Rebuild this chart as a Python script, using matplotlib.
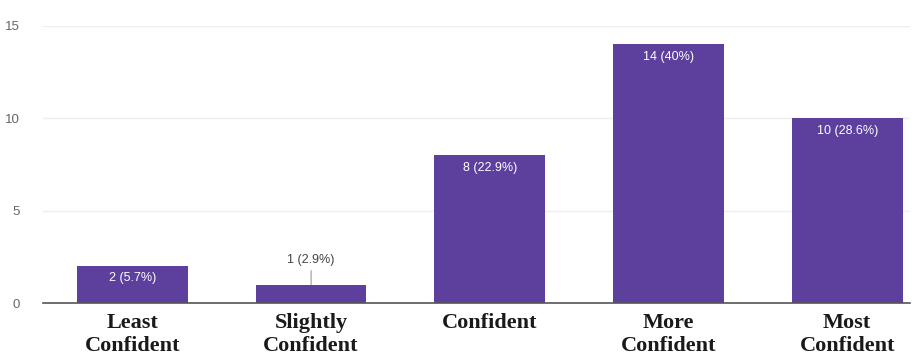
import matplotlib.pyplot as plt

# data
categories = ["Least\nConfident", "Slightly\nConfident", "Confident", "More\nConfident", "Most\nConfident"]
counts = [2, 1, 8, 14, 10]
percents = ["5.7%", "2.9%", "22.9%", "40%", "28.6%"]
yticks = [0, 5, 10, 15]

bar_color = "#5d3f9e"

fig = plt.figure(figsize=(9.17, 3.58), dpi=100)
ax = fig.add_axes([0.047, 0.1536, 0.945, 0.7738])

x = list(range(len(categories)))
bars = ax.bar(x, counts, width=0.62, color=bar_color, zorder=2)

ax.set_xlim(-0.5, 4.35)
ax.set_ylim(0, 15)
ax.set_yticks(yticks)
ax.set_yticklabels([str(t) for t in yticks], fontsize=9.5, color="#666666", family="Liberation Sans")
ax.tick_params(axis="y", length=0, pad=17)
ax.tick_params(axis="x", length=0, pad=7)
ax.set_xticks(x)
ax.set_xticklabels(categories, family="Liberation Serif", fontweight="bold", fontsize=16,
                   color="#1a1a1a", linespacing=1.2, va="top")

ax.grid(axis="y", color="#eeeeee", linewidth=1, zorder=0)
for s in ["top", "right", "left"]:
    ax.spines[s].set_visible(False)
ax.spines["bottom"].set_color("#555555")
ax.spines["bottom"].set_linewidth(1.2)

# value labels
for xi, c, p in zip(x, counts, percents):
    label = f"{c} ({p})"
    if c >= 2:
        ax.annotate(label, (xi, c), xytext=(0, -4.5), textcoords="offset points",
                    ha="center", va="top", color="white", fontsize=9,
                    family="Liberation Sans", zorder=3)
    else:
        ax.annotate(label, (xi, c), xytext=(0, 13), textcoords="offset points",
                    ha="center", va="bottom", color="#444444", fontsize=9,
                    family="Liberation Sans", zorder=3,
                    arrowprops=dict(arrowstyle="-", color="#999999", lw=0.8,
                                    shrinkA=1, shrinkB=0))

fig.savefig("out.png", dpi=100)
